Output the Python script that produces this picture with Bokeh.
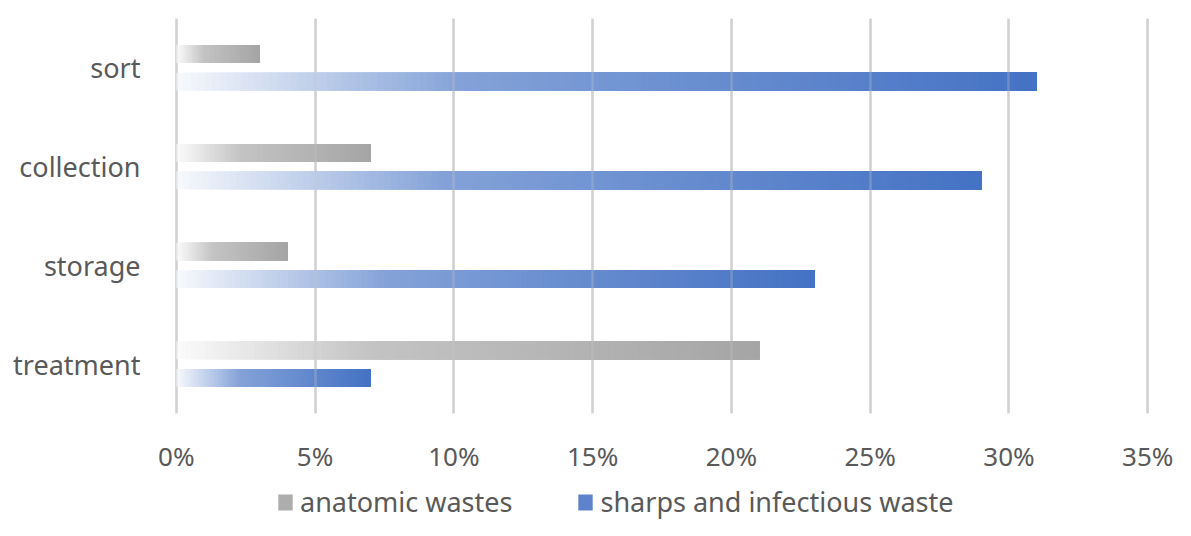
import numpy as np
from bokeh.plotting import figure
from bokeh.layouts import column
from bokeh.models import (Range1d, FixedTicker, NumeralTickFormatter, Legend,
                          LegendItem, ColumnDataSource, Grid)
from bokeh.embed import file_html
from bokeh.resources import INLINE

# ---- data ----
categories = ["sort", "collection", "storage", "treatment"]
anatomic_wastes = [0.03, 0.07, 0.04, 0.21]
sharps_infectious = [0.31, 0.29, 0.23, 0.07]
series_labels = ["anatomic wastes", "sharps and infectious waste"]
x_tick_values = [0.0, 0.05, 0.10, 0.15, 0.20, 0.25, 0.30, 0.35]

# ---- style ----
FONT = "Noto Sans"
TXT = "#595959"
N_SLICES = 120
# gradient (position along bar -> strength) stops
grad_t = [0.0, 0.33, 1.0]
grad_a = [0.04, 0.66, 1.0]

p = figure(width=1175, height=484, output_backend="svg", toolbar_location=None,
           x_range=Range1d(-0.001, 0.351), y_range=Range1d(-0.5, 3.5),
           min_border_left=173, min_border_right=25, min_border_top=18,
           min_border_bottom=71)
p.outline_line_color = None
p.background_fill_color = "white"
p.border_fill_color = "white"


def mix(rgb, a):
    r, g, b = (int(round(255 - a * (255 - c))) for c in rgb)
    return "#%02x%02x%02x" % (r, g, b)


def gradient_bars(values, offset, rgb, height=0.18):
    """Opaque slices, each running to the bar end, later ones drawn on top."""
    n = len(values)
    ts = np.arange(N_SLICES) / N_SLICES
    strengths = np.interp(ts + 0.5 / N_SLICES, grad_t, grad_a)
    left, right, bottom, top, color = [], [], [], [], []
    for i, v in enumerate(values):
        y = (n - 1 - i) + offset
        for t, a in zip(ts, strengths):
            left.append(v * t)
            right.append(v)
            bottom.append(y - height / 2)
            top.append(y + height / 2)
            color.append(mix(rgb, a))
    src = ColumnDataSource(dict(left=left, right=right, bottom=bottom, top=top, color=color))
    return p.quad(left="left", right="right", bottom="bottom", top="top", source=src,
                  fill_color="color", line_color=None)


gradient_bars(anatomic_wastes, 0.14, (165, 165, 165))
gradient_bars(sharps_infectious, -0.14, (68, 114, 196))

# axes
xa = p.xaxis[0]
xa.ticker = FixedTicker(ticks=x_tick_values)
xa.formatter = NumeralTickFormatter(format="0%")
xa.axis_line_color = None
xa.major_tick_line_color = None
xa.minor_tick_line_color = None
xa.major_label_text_font = FONT
xa.major_label_text_font_size = "26px"
xa.major_label_text_color = TXT
xa.major_label_standoff = 18

ya = p.yaxis[0]
ya.ticker = FixedTicker(ticks=[0, 1, 2, 3])
ya.major_label_overrides = {len(categories) - 1 - i: c for i, c in enumerate(categories)}
ya.axis_line_color = None
ya.major_tick_line_color = None
ya.minor_tick_line_color = None
ya.major_label_text_font = FONT
ya.major_label_text_font_size = "27px"
ya.major_label_text_color = TXT
ya.major_label_standoff = 27

p.ygrid.visible = False
p.xgrid.grid_line_color = "#D6D6D6"
p.xgrid.grid_line_width = 2.5
# faint gridlines showing through the bars
p.add_layout(Grid(dimension=0, ticker=xa.ticker, grid_line_color="#C8C8C8",
                  grid_line_alpha=0.3, grid_line_width=2.5, level="overlay"))

# ---- legend strip ----
pl = figure(width=1175, height=36, output_backend="svg", toolbar_location=None,
            x_range=Range1d(0, 1), y_range=Range1d(0, 1),
            x_axis_location=None, y_axis_location=None,
            min_border_left=0, min_border_right=0, min_border_top=0, min_border_bottom=0)
pl.outline_line_color = None
pl.grid.visible = False
nan = [float("nan")]
lg_gray = pl.quad(left=nan, right=nan, top=nan, bottom=nan, fill_color="#ADADAD", line_color=None)
lg_blue = pl.quad(left=nan, right=nan, top=nan, bottom=nan, fill_color="#5F82CC", line_color=None)

legend = Legend(items=[LegendItem(label=series_labels[0], renderers=[lg_gray], index=0),
                       LegendItem(label=series_labels[1], renderers=[lg_blue], index=0)],
                location=(103, 0), orientation="horizontal",
                border_line_alpha=0, background_fill_alpha=0,
                label_text_font=FONT, label_text_font_size="27px",
                label_text_color=TXT, glyph_width=18, glyph_height=20,
                spacing=64, padding=0, margin=0, label_standoff=6)
pl.add_layout(legend)

layout = column(p, pl, spacing=0)
open("out.html", "w").write(file_html(layout, INLINE))
